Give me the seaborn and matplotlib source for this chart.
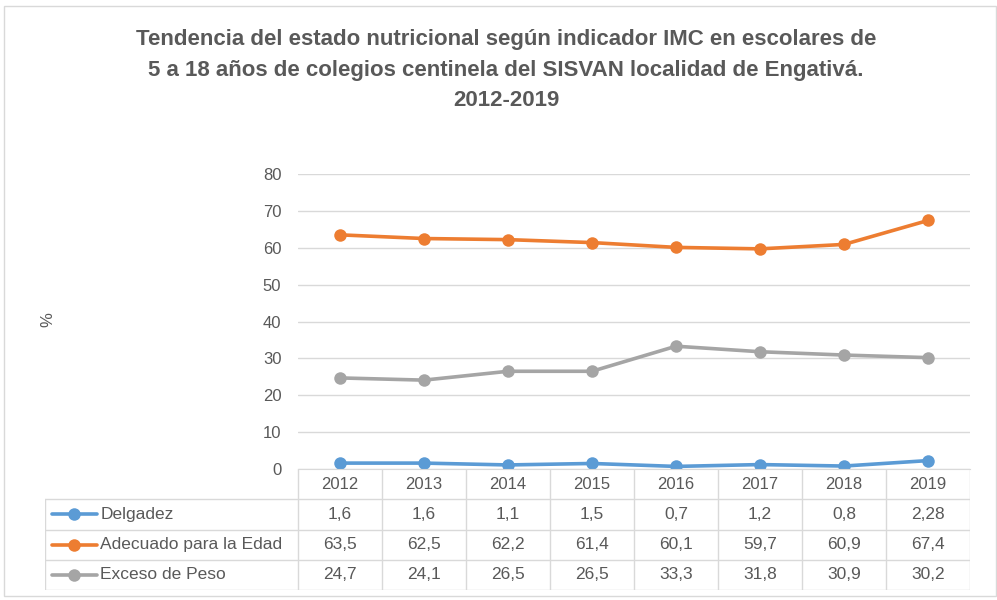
import matplotlib
matplotlib.use("Agg")
import matplotlib.pyplot as plt
import seaborn as sns
import pandas as pd

# Data
years = ["2012", "2013", "2014", "2015", "2016", "2017", "2018", "2019"]
delgadez = [1.6, 1.6, 1.1, 1.5, 0.7, 1.2, 0.8, 2.28]
adecuado = [63.5, 62.5, 62.2, 61.4, 60.1, 59.7, 60.9, 67.4]
exceso = [24.7, 24.1, 26.5, 26.5, 33.3, 31.8, 30.9, 30.2]
series_names = ["Delgadez", "Adecuado para la Edad", "Exceso de Peso"]
value_labels = [["1,6", "1,6", "1,1", "1,5", "0,7", "1,2", "0,8", "2,28"],
                ["63,5", "62,5", "62,2", "61,4", "60,1", "59,7", "60,9", "67,4"],
                ["24,7", "24,1", "26,5", "26,5", "33,3", "31,8", "30,9", "30,2"]]
colors = ["#5B9BD5", "#ED7D31", "#A5A5A5"]

sns.set_style("white")
plt.rcParams["font.family"] = ["Liberation Sans", "DejaVu Sans"]

W, H = 997, 600
fig = plt.figure(figsize=(W / 100, H / 100), dpi=100)

# helper to turn pixel coords (top-left origin) into figure fractions
def fx(px):
    return px / W

def fy(py):
    return 1 - py / H

# outer chart border
fig.patches.append(plt.Rectangle((fx(4), fy(596)), fx(992), 590 / H, transform=fig.transFigure,
                                 fill=False, edgecolor="#D9D9D9", linewidth=1))

fig.text(fx(506), fy(29), "Tendencia del estado nutricional según indicador IMC en escolares de\n"
         "5 a 18 años de colegios centinela del SISVAN localidad de Engativá.\n2012-2019",
         ha="center", va="top", fontsize=16, fontweight="bold", color="#595959", linespacing=1.6)

left, right, top, bottom = 298, 970, 174, 469
ax = fig.add_axes([fx(left), fy(bottom), fx(right - left), (bottom - top) / H])

df = pd.DataFrame({
    "x": list(range(len(years))) * 3,
    "valor": delgadez + adecuado + exceso,
    "serie": [s for s in series_names for _ in years],
})
sns.lineplot(data=df, x="x", y="valor", hue="serie", palette=colors, marker="o",
             markersize=9, markeredgewidth=0, linewidth=2.6, legend=False, ax=ax)

ax.set_xlim(-0.5, len(years) - 0.5)
ax.set_ylim(0, 80)
ax.set_yticks(range(0, 81, 10))
ax.set_xticks([])
ax.set_xlabel("")
ax.set_ylabel("")
ax.yaxis.grid(True, color="#D9D9D9", linewidth=1)
ax.set_axisbelow(True)
for s in ["top", "right", "left"]:
    ax.spines[s].set_visible(False)
ax.spines["bottom"].set_color("#D9D9D9")
ax.tick_params(axis="y", length=0, labelsize=12, labelcolor="#595959", pad=12)

fig.text(fx(48), fy(320), "%", rotation=90, ha="center", va="center", fontsize=12, color="#595959")

# data table below the plot
tab = fig.add_axes([fx(45), fy(590), fx(right - 45), (590 - bottom) / H])
col_w = (right - left) / len(years)
x0 = (left - 45) / col_w  # legend column width in column units
tab.set_xlim(-x0, len(years))
tab.set_ylim(4, 0)
tab.axis("off")
grid_c = "#D9D9D9"
for i in range(len(years) + 1):
    tab.plot([i, i], [0, 4], color=grid_c, lw=1)
for r in range(1, 5):
    tab.plot([-x0, len(years)], [r, r], color=grid_c, lw=1)
tab.plot([-x0, -x0], [1, 4], color=grid_c, lw=1)
for i, y in enumerate(years):
    tab.text(i + 0.5, 0.5, y, ha="center", va="center", fontsize=12, color="#595959")
for r, name in enumerate(series_names):
    yy = r + 1.5
    tab.plot([-x0 + 0.08, -x0 + 0.62], [yy, yy], color=colors[r], lw=2.6)
    tab.plot([-x0 + 0.35], [yy], "o", color=colors[r], markersize=9, markeredgewidth=0)
    tab.text(-x0 + 0.66, yy, name, ha="left", va="center", fontsize=12.5, color="#595959")
    for i, lab in enumerate(value_labels[r]):
        tab.text(i + 0.5, yy, lab, ha="center", va="center", fontsize=12.5, color="#595959")

fig.savefig("out.png", dpi=100)
